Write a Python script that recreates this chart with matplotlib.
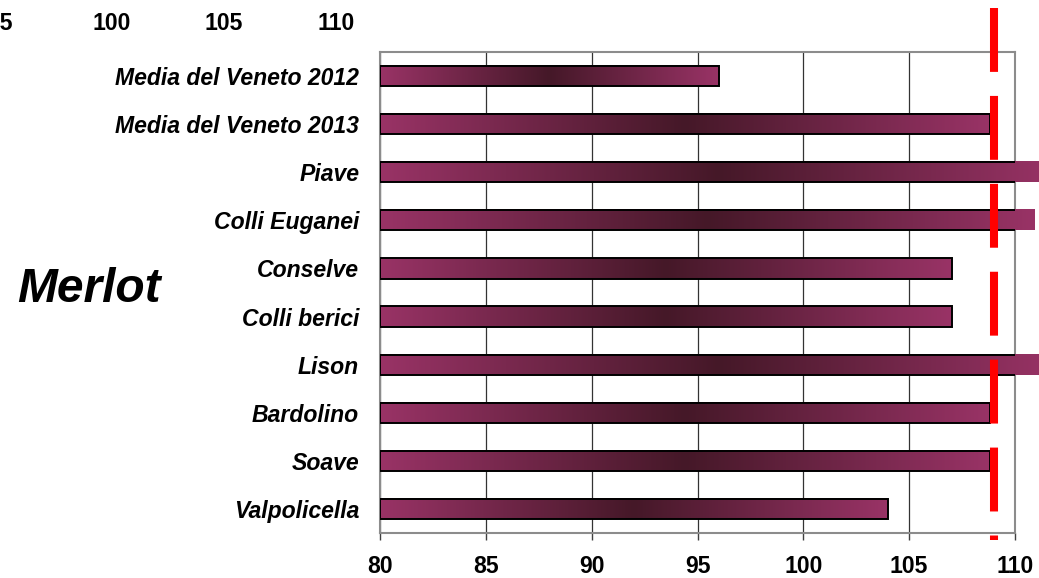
import numpy as np
import matplotlib
matplotlib.use("Agg")
from matplotlib import pyplot as plt
from matplotlib.colors import LinearSegmentedColormap

plt.rcParams['font.family'] = ['Liberation Sans', 'DejaVu Sans']
plt.rcParams['lines.scale_dashes'] = False

# data, top to bottom
labels = ['Media del Veneto 2012', 'Media del Veneto 2013', 'Piave', 'Colli Euganei',
          'Conselve', 'Colli berici', 'Lison', 'Bardolino', 'Soave', 'Valpolicella']
values = [96.0, 108.8, 112.0, 110.9, 107.0, 107.0, 112.0, 108.8, 108.8, 104.0]
reference = 109.0
xticks = [80, 85, 90, 95, 100, 105, 110]
top_ticks = [95, 100, 105, 110]   # stray labels left over at top

W, H = 1039, 578
fig = plt.figure(figsize=(W / 100, H / 100), dpi=100)
ax = fig.add_axes([380 / W, (H - 533) / H, 635 / W, 481 / H])

cmap = LinearSegmentedColormap.from_list('plum', ['#993366', '#451828', '#993366'])
grad = np.linspace(0, 1, 256).reshape(1, -1)
bh = 0.42

for i, v in enumerate(values):
    im = ax.imshow(grad, cmap=cmap, aspect='auto', interpolation='bilinear',
                   extent=(80, v, i + bh / 2, i - bh / 2), zorder=3)
    im.set_clip_on(False)
    ax.barh(i, v - 80, left=80, height=bh, facecolor='none',
            edgecolor='black', linewidth=1.4, zorder=4)

ax.set_xlim(80, 110)
ax.set_ylim(len(labels) - 0.5, -0.5)
ax.set_yticks(range(len(labels)))
ax.set_yticklabels(labels, fontsize=16.6, fontweight='bold', fontstyle='italic')
ax.tick_params(axis='y', length=0, pad=15)
ax.set_xticks(xticks)
ax.set_xticklabels([str(t) for t in xticks], fontsize=16.6, fontweight='bold')
ax.tick_params(axis='x', direction='out', length=5, width=1, color='#404040', pad=11)

ax.set_axisbelow(True)
ax.grid(axis='x', color='#333333', linewidth=0.9)
ax.grid(axis='y', visible=False)
for s in ax.spines.values():
    s.set_color('#8c8c8c')
    s.set_linewidth(1.5)

# red dashed reference line, runs past the frame
ln, = ax.plot([reference, reference], [1.0915, -0.0146], transform=ax.get_xaxis_transform(),
              color='#ff0000', linewidth=5.8, solid_capstyle='butt', dash_capstyle='butt',
              clip_on=False, zorder=6)
ln.set_dashes((46, 17.3))

for t in top_ticks:
    fig.text((t - 95) * 22.4 / W, 1 - 24 / H, str(t), fontsize=16.6, fontweight='bold',
             ha='center', va='center')

fig.text(89 / W, 1 - 290 / H, 'Merlot', fontsize=34.5, fontweight='bold',
         fontstyle='italic', ha='center', va='center')

fig.savefig('out.png', dpi=100)
